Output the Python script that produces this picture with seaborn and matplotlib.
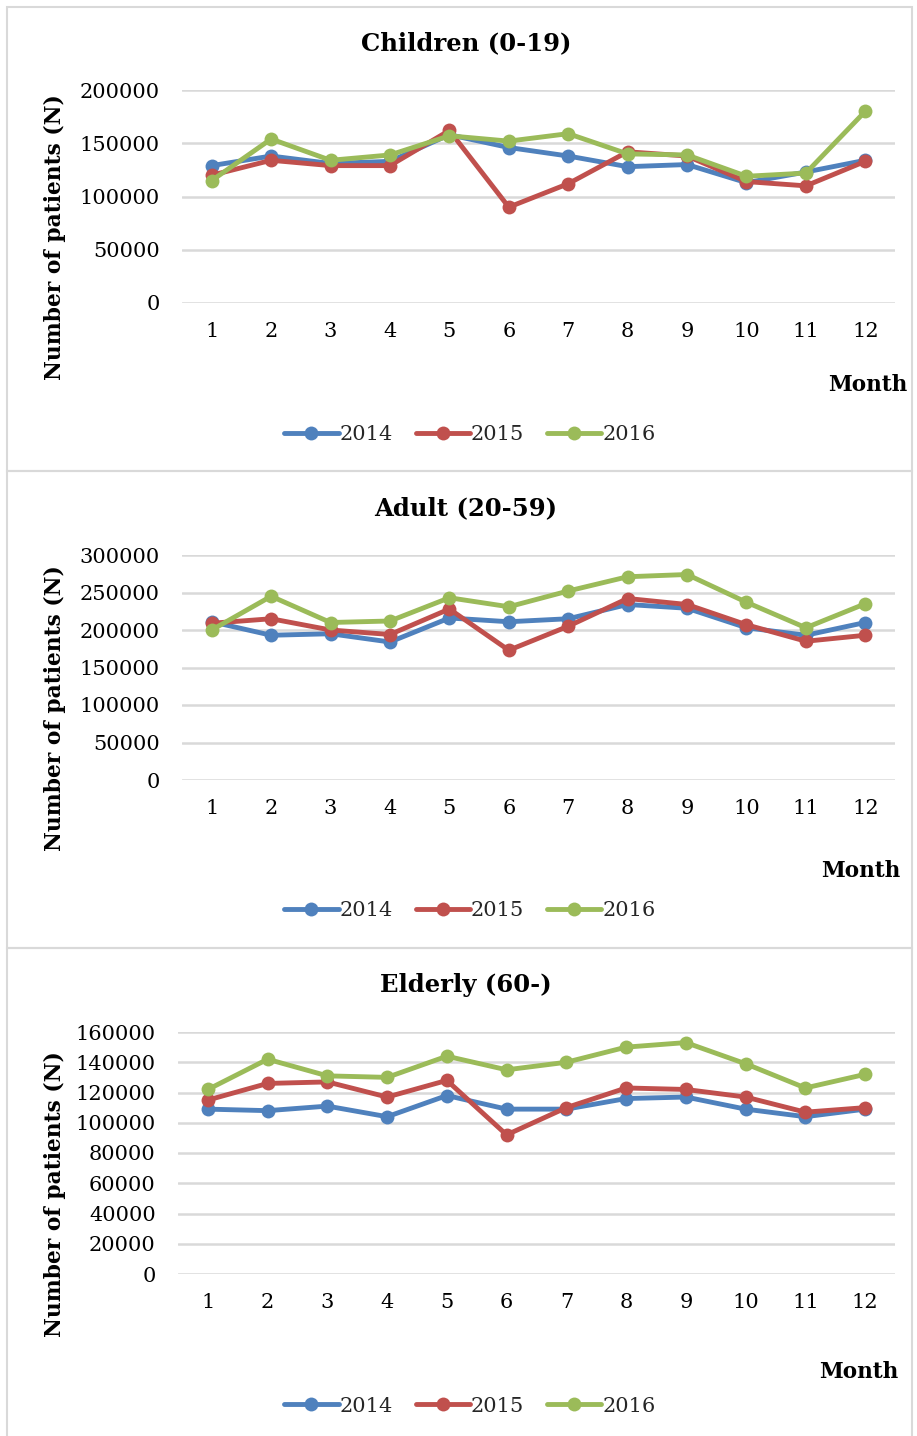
import matplotlib
matplotlib.use("Agg")
import matplotlib.pyplot as plt
import seaborn as sns
import pandas as pd
from matplotlib.patches import Rectangle

months = list(range(1, 13))
years = ["2014", "2015", "2016"]

children_2014 = [129000, 138000, 131000, 133000, 158000, 146000, 138000, 128000, 130000, 113000, 123000, 134000]
children_2015 = [120000, 134000, 129000, 129000, 162000, 90000, 112000, 142000, 138000, 114000, 110000, 133000]
children_2016 = [115000, 154000, 134000, 139000, 157000, 152000, 159000, 140000, 139000, 119000, 122000, 180000]

adult_2014 = [211000, 193000, 195000, 184000, 216000, 211000, 215000, 234000, 229000, 203000, 193000, 210000]
adult_2015 = [209000, 215000, 200000, 194000, 228000, 173000, 205000, 242000, 234000, 207000, 185000, 193000]
adult_2016 = [200000, 245000, 210000, 212000, 243000, 231000, 252000, 271000, 274000, 237000, 203000, 235000]

elderly_2014 = [109000, 108000, 111000, 104000, 118000, 109000, 109000, 116000, 117000, 109000, 104000, 109000]
elderly_2015 = [115000, 126000, 127000, 117000, 128000, 92000, 110000, 123000, 122000, 117000, 107000, 110000]
elderly_2016 = [122000, 142000, 131000, 130000, 144000, 135000, 140000, 150000, 153000, 139000, 123000, 132000]

titles = ["Children (0-19)", "Adult (20-59)", "Elderly (60-)"]
y_ticks = [
    [0, 50000, 100000, 150000, 200000],
    [0, 50000, 100000, 150000, 200000, 250000, 300000],
    [0, 20000, 40000, 60000, 80000, 100000, 120000, 140000, 160000],
]
series = [
    [children_2014, children_2015, children_2016],
    [adult_2014, adult_2015, adult_2016],
    [elderly_2014, elderly_2015, elderly_2016],
]

palette = {"2014": "#4F81BD", "2015": "#C0504D", "2016": "#9BBB59"}

sns.set_theme(style="white")
plt.rcParams["font.family"] = ["DejaVu Serif"]

W, H = 917, 1436
fig = plt.figure(figsize=(W / 100, H / 100), dpi=100)

# pixel layout of each panel: (panel top, panel bottom, plot left, plot right,
# plot top, plot bottom, title y, xlabel x, xlabel y, legend y, ylabel x)
layout = [
    dict(pt=7, pb=471, l=182, r=895, t=90, b=303, ty=43, mx=868, my=385, ly=435, yx=55),
    dict(pt=471, pb=948, l=182, r=895, t=555, b=780, ty=508, mx=861, my=871, ly=911, yx=55),
    dict(pt=948, pb=1440, l=178, r=895, t=1032, b=1274, ty=985, mx=859, my=1372, ly=1406, yx=55),
]

def fx(x):
    return x / W

def fy(y):
    return 1 - y / H

for i, L in enumerate(layout):
    # panel frame
    fig.add_artist(Rectangle((fx(7), fy(L["pb"])), fx(912 - 7), (L["pb"] - L["pt"]) / H,
                             transform=fig.transFigure, fill=False,
                             edgecolor="#D9D9D9", linewidth=1.5))

    df = pd.DataFrame({
        "Month": months * 3,
        "Patients": sum(series[i], []),
        "Year": [y for y in years for _ in months],
    })

    ax = fig.add_axes([fx(L["l"]), fy(L["b"]), fx(L["r"] - L["l"]), (L["b"] - L["t"]) / H])
    sns.lineplot(data=df, x="Month", y="Patients", hue="Year", palette=palette,
                 marker="o", markersize=10, markeredgewidth=0, linewidth=3.5,
                 ax=ax, legend=False)

    ax.set_xlim(0.5, 12.5)
    ax.set_ylim(0, y_ticks[i][-1])
    ax.set_yticks(y_ticks[i])
    ax.set_yticklabels([str(v) for v in y_ticks[i]])
    ax.set_xticks(months)
    ax.set_xticklabels([str(m) for m in months])
    ax.tick_params(axis="both", length=0, labelsize=15, colors="black")
    ax.tick_params(axis="x", pad=14)
    ax.tick_params(axis="y", pad=16)
    ax.grid(axis="y", color="#D9D9D9", linewidth=1.8)
    ax.grid(axis="x", visible=False)
    ax.set_axisbelow(True)
    for s in ax.spines.values():
        s.set_visible(False)
    ax.set_xlabel("")
    ax.set_ylabel("")
    ax.patch.set_alpha(0)

    fig.text(fx(466), fy(L["ty"]), titles[i], ha="center", va="center",
             fontsize=17.5, fontweight="bold", color="black")
    fig.text(fx(L["mx"]), fy(L["my"]), "Month", ha="center", va="center",
             fontsize=15.5, fontweight="bold", color="black")
    fig.text(fx(L["yx"]), (fy(L["t"]) + fy(L["b"] + 82)) / 2, "Number of patients (N)",
             rotation=90, ha="center", va="center", fontsize=15.7,
             fontweight="bold", color="black")

    handles = [plt.Line2D([], [], color=palette[y], linewidth=3.5, marker="o",
                          markersize=10, markeredgewidth=0) for y in years]
    fig.legend(handles, years, loc="center", bbox_to_anchor=(fx(470), fy(L["ly"])),
               ncol=3, frameon=False, fontsize=15, handlelength=2.6,
               handletextpad=0.05, columnspacing=1.1)

fig.savefig("out.png", dpi=100, facecolor="white")
